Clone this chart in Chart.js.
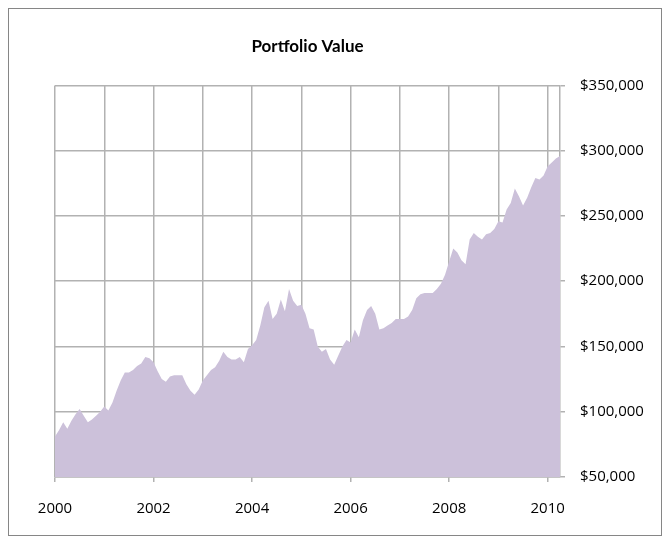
<!DOCTYPE html>
<html>
<head>
<meta charset="utf-8">
<script src="https://cdn.jsdelivr.net/npm/chart.js@4"></script>
<style>
  html, body { margin: 0; padding: 0; background: #fff; }
  #wrap { width: 670px; height: 544px; position: relative; }
</style>
</head>
<body>
<div id="wrap"><canvas id="chart" width="670" height="544"></canvas></div>
<script>
// monthly portfolio value, Jan 2000 .. Apr 2010
const startYear = 2000;
const monthlyValues = [
  81000, 86000, 92000, 87000, 93000, 98000, 102000, 97000, 92000, 94000, 97000, 100000,
  104000, 101000, 107000, 116000, 124000, 130000, 130000, 132000, 135000, 137000, 142000, 141000,
  138000, 131000, 125000, 123000, 127000, 128000, 128000, 128000, 121000, 116000, 113000, 117000,
  124000, 128000, 132000, 134000, 139000, 146000, 142000, 140000, 140000, 142000, 138000, 148000,
  151000, 155000, 166000, 180000, 185000, 171000, 175000, 186000, 177000, 194000, 185000, 181000,
  182000, 175000, 164000, 163000, 150000, 146000, 148000, 140000, 136000, 143000, 150000, 155000,
  153000, 163000, 157000, 170000, 178000, 181000, 175000, 163000, 164000, 166000, 168000, 171000,
  171000, 171000, 173000, 178000, 187000, 190000, 191000, 191000, 191000, 194000, 198000, 205000,
  215000, 225000, 222000, 216000, 213000, 232000, 237000, 234000, 232000, 236000, 237000, 240000,
  246000, 245000, 255000, 260000, 271000, 265000, 258000, 264000, 272000, 279000, 278000, 281000,
  288000, 291000, 294000, 296000
];
const yearTicks = [2000, 2002, 2004, 2006, 2008, 2010];
const valueTicks = [50000, 100000, 150000, 200000, 250000, 300000, 350000];

const points = monthlyValues.map((v, i) => ({ x: startYear + i / 12, y: v }));

const frame = {
  id: "frame",
  beforeDraw(chart) {
    const c = chart.ctx;
    c.save();
    c.fillStyle = "#fff";
    c.fillRect(0, 0, chart.width, chart.height);
    c.strokeStyle = "#868686";
    c.lineWidth = 1;
    c.strokeRect(8.5, 8.5, 653, 527);
    c.restore();
  }
};

const gridColor = "#b2b2b2";
const fontFamily = "'Open Sans', 'Liberation Sans', sans-serif";

new Chart(document.getElementById("chart"), {
  type: "line",
  data: {
    datasets: [{
      label: "Portfolio Value",
      data: points,
      fill: "start",
      backgroundColor: "#ccc1da",
      borderWidth: 0,
      pointRadius: 0,
      tension: 0
    }]
  },
  options: {
    responsive: false,
    animation: false,
    layout: { padding: { left: 55, top: 26, right: 0, bottom: 0 } },
    plugins: {
      legend: { display: false },
      tooltip: { enabled: false },
      title: {
        display: true,
        text: "Portfolio Value",
        fullSize: false,
        color: "#000",
        font: { family: "Lato, 'Open Sans', sans-serif", size: 17, weight: "bold" },
        padding: { top: 10, bottom: 29 }
      }
    },
    scales: {
      x: {
        type: "linear",
        min: 2000,
        max: 2010.25,
        afterFit(scale) { scale.height = 67; },
        afterBuildTicks(scale) {
          const t = [];
          for (let y = 2000; y <= 2010; y++) t.push({ value: y });
          scale.ticks = t;
        },
        ticks: {
          autoSkip: false,
          maxRotation: 0,
          padding: 18,
          color: "#000",
          font: { family: fontFamily, size: 15 },
          callback: v => yearTicks.includes(v) ? String(v) : ""
        },
        grid: {
          color: gridColor,
          lineWidth: 1.5,
          tickLength: 5,
          tickColor: ctx => (ctx.tick && yearTicks.includes(ctx.tick.value)) ? gridColor : "rgba(0,0,0,0)"
        },
        border: { color: gridColor, width: 1.5 }
      },
      y: {
        position: "right",
        min: 50000,
        max: 350000,
        afterFit(scale) { scale.width = 110; },
        afterBuildTicks(scale) {
          scale.ticks = valueTicks.map(v => ({ value: v }));
        },
        ticks: {
          padding: 15,
          color: "#000",
          font: { family: fontFamily, size: 15 },
          callback: v => "$" + v.toLocaleString("en-US")
        },
        grid: { color: gridColor, lineWidth: 1.5, tickLength: 5 },
        border: { color: gridColor, width: 1.5 }
      }
    }
  },
  plugins: [frame]
});
</script>
</body>
</html>
